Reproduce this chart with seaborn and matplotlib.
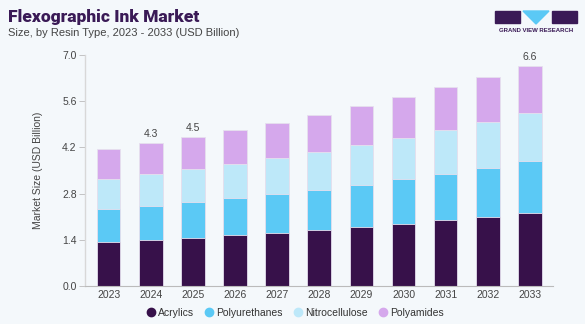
import matplotlib
matplotlib.use("Agg")
import matplotlib.pyplot as plt
import matplotlib.patches as mpatches
from matplotlib.lines import Line2D
import seaborn as sns
import pandas as pd
import numpy as np

years = ["2023", "2024", "2025", "2026", "2027", "2028", "2029", "2030", "2031", "2032", "2033"]
acrylics = [1.34, 1.39, 1.46, 1.55, 1.62, 1.70, 1.79, 1.89, 1.99, 2.09, 2.21]
polyurethanes = [0.98, 1.03, 1.08, 1.11, 1.17, 1.22, 1.28, 1.34, 1.41, 1.49, 1.58]
nitrocellulose = [0.92, 0.96, 1.01, 1.04, 1.09, 1.15, 1.20, 1.26, 1.34, 1.40, 1.46]
polyamides = [0.90, 0.94, 0.97, 1.03, 1.07, 1.11, 1.17, 1.24, 1.28, 1.35, 1.43]
series_names = ["Acrylics", "Polyurethanes", "Nitrocellulose", "Polyamides"]
colors = ["#37114A", "#5BC9F5", "#BDE8F9", "#D5A8EC"]
label_years = {"2024": "4.3", "2025": "4.5", "2033": "6.6"}
yticks = [0.0, 1.4, 2.8, 4.2, 5.6, 7.0]

bg = "#F4F8FB"
sns.set_theme(style="white")
plt.rcParams["font.family"] = ["Liberation Sans", "DejaVu Sans"]

df = pd.DataFrame({"year": years, "Acrylics": acrylics, "Polyurethanes": polyurethanes,
                   "Nitrocellulose": nitrocellulose, "Polyamides": polyamides})
cum = df[series_names].cumsum(axis=1)

fig = plt.figure(figsize=(5.85, 3.24), dpi=100, facecolor=bg)
ax = fig.add_axes([85/585, (324-286)/324, (552.7-85)/585, (286-55)/324])
ax.set_facecolor(bg)

for name, col in reversed(list(zip(series_names, colors))):
    sns.barplot(x=df["year"], y=cum[name], color=col, ax=ax, width=0.56,
                edgecolor="#E6E0EE", linewidth=0.6, saturation=1)

ax.set_ylim(0, 7.0)
ax.set_xlim(-0.56, 10.54)
ax.set_yticks(yticks)
ax.set_yticklabels([f"{t:.1f}" for t in yticks], fontsize=7.5, color="#444444")
ax.tick_params(axis="x", labelsize=7.5, colors="#444444", length=0, pad=3)
ax.tick_params(axis="y", length=4, width=0.6, color="#BBBBBB", left=True, pad=2)
ax.set_xlabel("")
ax.set_ylabel("Market Size (USD Billion)", fontsize=7.5, color="#444444", labelpad=14)
for s in ["top", "right"]:
    ax.spines[s].set_visible(False)
ax.spines["left"].set_color("#D8D8D8")
ax.spines["left"].set_linewidth(1.0)
ax.spines["bottom"].set_color("#BBBBBB")
ax.spines["bottom"].set_linewidth(0.8)
ax.grid(False)

totals = cum["Polyamides"].values
for i, y in enumerate(years):
    if y in label_years:
        ax.text(i, totals[i] + 0.12, label_years[y], ha="center", va="bottom",
                fontsize=7.5, color="#444444")

handles = [Line2D([0], [0], marker="o", linestyle="", markersize=6,
                  markerfacecolor=c, markeredgecolor=c) for c in colors]
fig.legend(handles, series_names, loc="center", bbox_to_anchor=(0.503, 1 - 313/324),
           ncol=4, frameon=False, fontsize=7.5, handletextpad=0.05, columnspacing=0.9,
           handlelength=1.2, labelcolor="#333333")

fig.text(8/585, 1 - 17/324, "Flexographic Ink Market", fontsize=12.5, fontweight="heavy",
         color="#3A1A56", va="center", ha="left", family=["Roboto", "DejaVu Sans"])
fig.text(8/585, 1 - 33/324, "Size, by Resin Type, 2023 - 2033 (USD Billion)", fontsize=8,
         color="#444444", va="center", ha="left")

# logo
lc = "#3A1A56"
fig.patches.append(mpatches.Rectangle((495/585, 1 - 23/324), 25/585, 12/324,
                                      transform=fig.transFigure, color=lc))
fig.patches.append(mpatches.Polygon([[523/585, 1 - 11/324], [549/585, 1 - 11/324],
                                     [536/585, 1 - 24/324]], closed=True,
                                    transform=fig.transFigure, color="#5BC9F5"))
fig.patches.append(mpatches.Rectangle((552/585, 1 - 23/324), 25/585, 12/324,
                                      transform=fig.transFigure, color=lc))
fig.text(536/585, 1 - 30/324, "GRAND VIEW RESEARCH", fontsize=4.3, fontweight="bold",
         color=lc, ha="center", va="center")

fig.savefig("out.png", dpi=100, facecolor=bg)
